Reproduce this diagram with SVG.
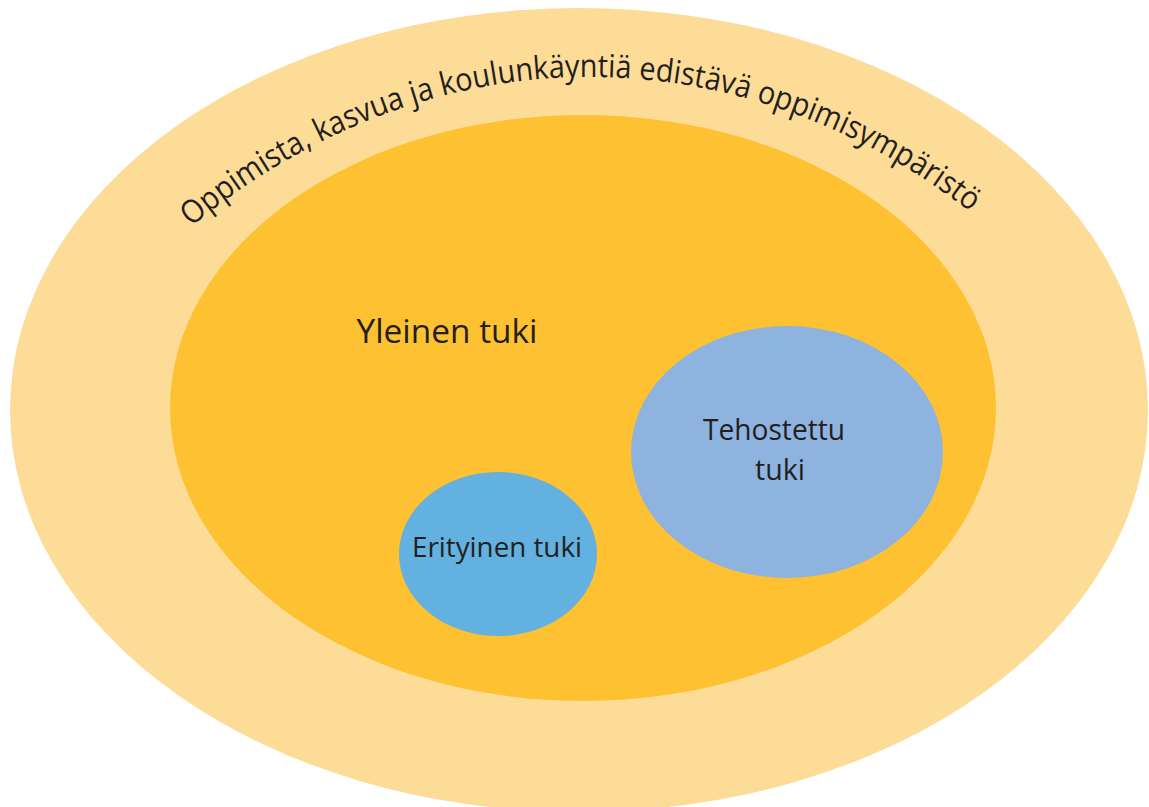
<svg xmlns="http://www.w3.org/2000/svg" xmlns:xlink="http://www.w3.org/1999/xlink" width="1149" height="807" viewBox="0 0 1149 807">
<style>
.lbl{font-family:"Open Sans","Noto Sans","Liberation Sans",sans-serif;fill:#231F20;}
</style>
<defs>
<path id="arc" d="M 90 327.7 A 720 894 0 0 1 1090 327.7"/>
</defs>
<rect width="1149" height="807" fill="#FFFFFF"/>
<g id="outer">
<ellipse cx="579" cy="410" rx="569" ry="402" fill="#FDDC98"/>
<text class="lbl" font-size="32" textLength="846" lengthAdjust="spacingAndGlyphs"><textPath xlink:href="#arc" href="#arc" startOffset="143">Oppimista, kasvua ja koulunkäyntiä edistävä oppimisympäristö</textPath></text>
</g>
<g id="yleinen">
<ellipse cx="583" cy="408" rx="413" ry="293" fill="#FDC131"/>
<text class="lbl" x="447" y="343" font-size="33" text-anchor="middle" textLength="181" lengthAdjust="spacingAndGlyphs">Yleinen tuki</text>
</g>
<g id="tehostettu">
<ellipse cx="787" cy="452" rx="156" ry="126" fill="#8DB3DE"/>
<text class="lbl" x="774" y="440" font-size="29" text-anchor="middle" textLength="142" lengthAdjust="spacingAndGlyphs">Tehostettu</text>
<text class="lbl" x="780" y="480" font-size="29" text-anchor="middle" textLength="50" lengthAdjust="spacingAndGlyphs">tuki</text>
</g>
<g id="erityinen">
<ellipse cx="498" cy="554" rx="99" ry="82" fill="#62B1E1"/>
<text class="lbl" x="497" y="557" font-size="28" text-anchor="middle" textLength="170" lengthAdjust="spacingAndGlyphs">Erityinen tuki</text>
</g>
<g id="connectors"></g>
</svg>
